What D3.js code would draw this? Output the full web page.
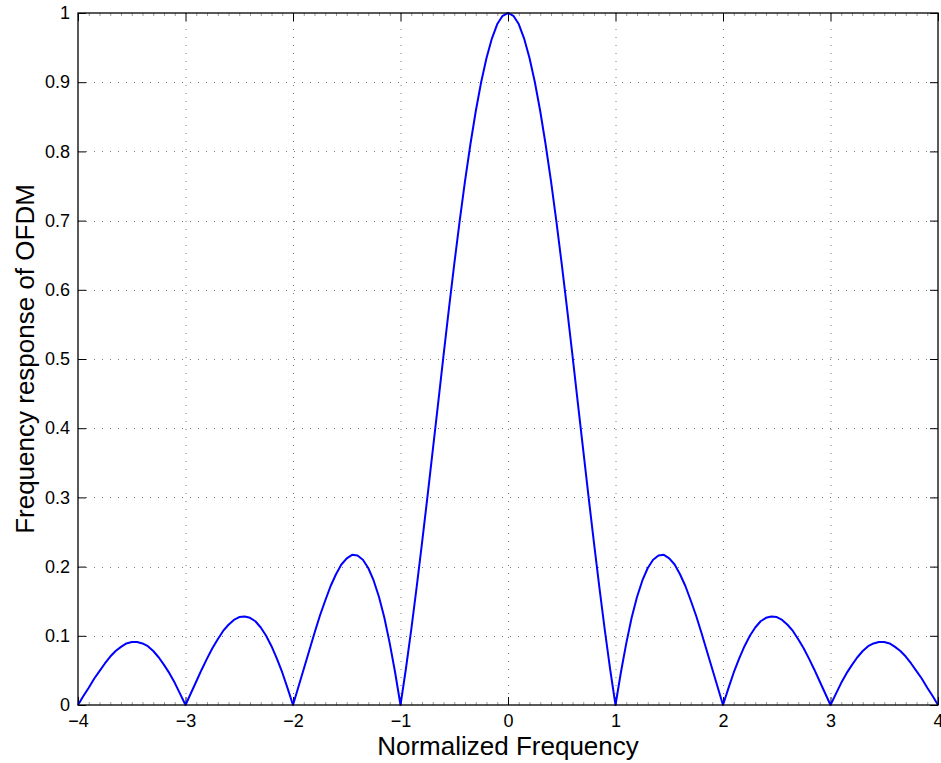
<!DOCTYPE html>
<html><head><meta charset="utf-8">
<script src="https://cdn.jsdelivr.net/npm/d3@7"></script>
<style>body{margin:0;background:#fff}text{font-family:"Liberation Sans",Arial,Helvetica,sans-serif}</style>
</head><body><svg id="c" width="941" height="763"></svg>
<script>
const freq = [-4,-3.95,-3.9,-3.85,-3.8,-3.75,-3.7,-3.65,-3.6,-3.55,-3.5,-3.45,-3.4,-3.35,-3.3,-3.25,-3.2,-3.15,-3.1,-3.05,
-3,-2.95,-2.9,-2.85,-2.8,-2.75,-2.7,-2.65,-2.6,-2.55,-2.5,-2.45,-2.4,-2.35,-2.3,-2.25,-2.2,-2.15,-2.1,-2.05,
-2,-1.95,-1.9,-1.85,-1.8,-1.75,-1.7,-1.65,-1.6,-1.55,-1.5,-1.45,-1.4,-1.35,-1.3,-1.25,-1.2,-1.15,-1.1,-1.05,
-1,-0.95,-0.9,-0.85,-0.8,-0.75,-0.7,-0.65,-0.6,-0.55,-0.5,-0.45,-0.4,-0.35,-0.3,-0.25,-0.2,-0.15,-0.1,-0.05,
0,0.05,0.1,0.15,0.2,0.25,0.3,0.35,0.4,0.45,0.5,0.55,0.6,0.65,0.7,0.75,0.8,0.85,0.9,0.95,
1,1.05,1.1,1.15,1.2,1.25,1.3,1.35,1.4,1.45,1.5,1.55,1.6,1.65,1.7,1.75,1.8,1.85,1.9,1.95,
2,2.05,2.1,2.15,2.2,2.25,2.3,2.35,2.4,2.45,2.5,2.55,2.6,2.65,2.7,2.75,2.8,2.85,2.9,2.95,
3,3.05,3.1,3.15,3.2,3.25,3.3,3.35,3.4,3.45,3.5,3.55,3.6,3.65,3.7,3.75,3.8,3.85,3.9,3.95,4];
const response = [0,0.013,0.025,0.038,0.049,0.060,0.070,0.078,0.084,0.089,0.091,0.091,0.089,0.085,0.078,0.069,0.058,0.046,0.032,0.016,
0,0.017,0.034,0.051,0.067,0.082,0.095,0.107,0.116,0.123,0.127,0.128,0.126,0.121,0.112,0.100,0.085,0.067,0.047,0.024,
0,0.026,0.052,0.078,0.104,0.129,0.151,0.172,0.189,0.203,0.212,0.217,0.216,0.210,0.198,0.180,0.156,0.126,0.089,0.047,
0,0.052,0.109,0.170,0.234,0.300,0.368,0.436,0.505,0.572,0.637,0.699,0.757,0.810,0.858,0.900,0.935,0.963,0.984,0.996,
1,0.996,0.984,0.963,0.935,0.900,0.858,0.810,0.757,0.699,0.637,0.572,0.505,0.436,0.368,0.300,0.234,0.170,0.109,0.052,
0,0.047,0.089,0.126,0.156,0.180,0.198,0.210,0.216,0.217,0.212,0.203,0.189,0.172,0.151,0.129,0.104,0.078,0.052,0.026,
0,0.024,0.047,0.067,0.085,0.100,0.112,0.121,0.126,0.128,0.127,0.123,0.116,0.107,0.095,0.082,0.067,0.051,0.034,0.017,
0,0.016,0.032,0.046,0.058,0.069,0.078,0.085,0.089,0.091,0.091,0.089,0.084,0.078,0.070,0.060,0.049,0.038,0.025,0.013,0];
const xTicks = [-4,-3,-2,-1,0,1,2,3,4];
const yTicks = [0,0.1,0.2,0.3,0.4,0.5,0.6,0.7,0.8,0.9,1];
const xLabel = "Normalized Frequency";
const yLabel = "Frequency response of OFDM";

const L=78, R=938, T=13, B=705;
const svg=d3.select("#c");
const x=d3.scaleLinear().domain([-4,4]).range([L,R]);
const y=d3.scaleLinear().domain([0,1]).range([B,T]);
const fmt=v=>(v<0?"\u2212":"")+Math.abs(v);

// grid
const g=svg.append("g");
g.selectAll(".gx").data(xTicks.slice(1,-1)).join("line")
 .attr("x1",d=>x(d)+0.5).attr("x2",d=>x(d)+0.5).attr("y1",T).attr("y2",B)
 .attr("stroke","#777").attr("stroke-width",1).attr("stroke-dasharray","1,7");
g.selectAll(".gy").data(yTicks.slice(1,-1)).join("line")
 .attr("y1",d=>Math.round(y(d))+0.5).attr("y2",d=>Math.round(y(d))+0.5).attr("x1",L).attr("x2",R)
 .attr("stroke","#777").attr("stroke-width",1).attr("stroke-dasharray","1,7");

// minor ticks on x
const minor=d3.range(-40,41).map(i=>i/10).filter(v=>Math.abs(v-Math.round(v))>1e-6);
g.selectAll(".mt").data(minor).join("line")
 .attr("x1",d=>x(d)+0.5).attr("x2",d=>x(d)+0.5).attr("y1",B).attr("y2",B-3)
 .attr("stroke","#999").attr("stroke-width",1);
g.selectAll(".mt2").data(minor).join("line")
 .attr("x1",d=>x(d)+0.5).attr("x2",d=>x(d)+0.5).attr("y1",T).attr("y2",T+3)
 .attr("stroke","#999").attr("stroke-width",1);

// axes using d3 axis
const xb=svg.append("g").attr("transform",`translate(0,${B})`)
 .call(d3.axisBottom(x).tickValues(xTicks).tickFormat(fmt).tickSizeInner(-8).tickSizeOuter(0).tickPadding(9));
const xt=svg.append("g").attr("transform",`translate(0,${T})`)
 .call(d3.axisTop(x).tickValues(xTicks).tickFormat("").tickSizeInner(-8).tickSizeOuter(0));
const yl=svg.append("g").attr("transform",`translate(${L},0)`)
 .call(d3.axisLeft(y).tickValues(yTicks).tickFormat(d=>d).tickSizeInner(-8).tickSizeOuter(0).tickPadding(8));
const yr=svg.append("g").attr("transform",`translate(${R},0)`)
 .call(d3.axisRight(y).tickValues(yTicks).tickFormat("").tickSizeInner(-8).tickSizeOuter(0));
[xb,xt,yl,yr].forEach(a=>{a.select(".domain").remove();a.selectAll("line").attr("stroke","#000");
 a.selectAll("text").attr("font-size",18).attr("fill","#000").style("font-family",'"Liberation Sans",Arial,sans-serif');});

// line
svg.append("path").datum(freq.map((f,i)=>[f,response[i]]))
 .attr("d",d3.line().x(d=>x(d[0])).y(d=>y(d[1])).curve(d3.curveLinear))
 .attr("fill","none").attr("stroke","#0000ff").attr("stroke-width",2).attr("stroke-linejoin","round");

// box
svg.append("rect").attr("x",L).attr("y",T).attr("width",R-L).attr("height",B-T)
 .attr("fill","none").attr("stroke","#000").attr("stroke-width",1.3);

svg.append("text").attr("x",(L+R)/2).attr("y",755).attr("text-anchor","middle")
 .attr("font-size",26).attr("fill","#000").text(xLabel);
svg.append("text").attr("transform",`translate(34,${(T+B)/2}) rotate(-90)`).attr("text-anchor","middle")
 .attr("font-size",26).attr("fill","#000").text(yLabel);
</script></body></html>
